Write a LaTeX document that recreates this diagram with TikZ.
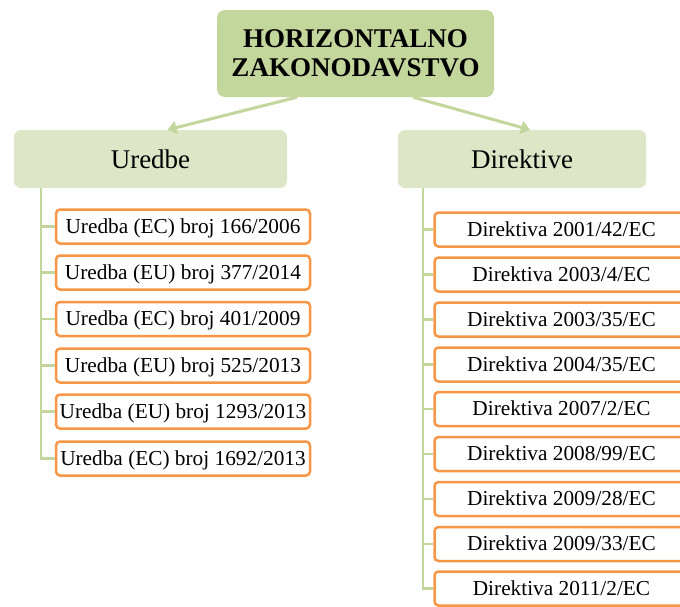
\documentclass[tikz,border=0pt]{standalone}
\usepackage{fontspec}
\setmainfont{Liberation Serif}
\usetikzlibrary{arrows.meta}

\definecolor{headgreen}{HTML}{C3D69B}
\definecolor{subgreen}{HTML}{DDE7C8}
\definecolor{boxorange}{HTML}{F79646}

\tikzset{
	headbox/.style={fill=headgreen, rounded corners=8pt, minimum width=277pt, minimum height=87pt, align=center, font=\fontsize{27}{29}\selectfont\bfseries},
	groupbox/.style={fill=subgreen, rounded corners=7pt, minimum height=58pt, font=\fontsize{27}{30}\selectfont},
	itembox/.style={draw=boxorange, line width=2.5pt, fill=white, rounded corners=4pt, inner sep=2pt, text height=15pt, text depth=2pt, minimum width=254pt, minimum height=34pt, font=\fontsize{21.3}{23}\selectfont},
	branch/.style={draw=headgreen, line width=2.5pt},
	feed/.style={draw=headgreen, line width=3pt, -{Triangle[length=9pt,width=13pt]}}
}

\begin{document}
\begin{tikzpicture}[x=1pt, y=-1pt]
			%%%%% START %%%%%
			
			\clip (0, 0) rectangle (680, 606);
			
			\node[headbox] (zakon) at (355.5, 53.5) {HORIZONTALNO\\ZAKONODAVSTVO};
			
			\node[groupbox, minimum width=273pt] (uredbe) at (150.5, 159) {Uredbe};
			\node[groupbox, minimum width=248pt] (direktive) at (522, 159) {Direktive};
			
			\draw[feed] ([xshift=-58.5pt]zakon.south) -- ([xshift=17pt]uredbe.north);
			\draw[feed] ([xshift=57.5pt]zakon.south) -- ([xshift=8pt]direktive.north);
			
			\coordinate (ustem) at ([xshift=27pt]uredbe.south west);
			\coordinate (dstem) at ([xshift=25pt]direktive.south west);
			
			\node[itembox] (u1) at (183, 226.5) {Uredba (EC) broj 166/2006};
			\node[itembox] (u2) at (183, 272.5) {Uredba (EU) broj 377/2014};
			\node[itembox] (u3) at (183, 319) {Uredba (EC) broj 401/2009};
			\node[itembox] (u4) at (183, 365.5) {Uredba (EU) broj 525/2013};
			\node[itembox] (u5) at (183, 411.5) {Uredba (EU) broj 1293/2013};
			\node[itembox] (u6) at (183, 458.5) {Uredba (EC) broj 1692/2013};
			
			\draw[branch] (ustem) |- (u1.west);
			\draw[branch] (ustem) |- (u2.west);
			\draw[branch] (ustem) |- (u3.west);
			\draw[branch] (ustem) |- (u4.west);
			\draw[branch] (ustem) |- (u5.west);
			\draw[branch] (ustem) |- (u6.west);
			
			\node[itembox] (d1) at (561.5, 229.5) {Direktiva 2001/42/EC};
			\node[itembox] (d2) at (561.5, 274.5) {Direktiva 2003/4/EC};
			\node[itembox] (d3) at (561.5, 319.5) {Direktiva 2003/35/EC};
			\node[itembox] (d4) at (561.5, 364.5) {Direktiva 2004/35/EC};
			\node[itembox] (d5) at (561.5, 409) {Direktiva 2007/2/EC};
			\node[itembox] (d6) at (561.5, 454) {Direktiva 2008/99/EC};
			\node[itembox] (d7) at (561.5, 499) {Direktiva 2009/28/EC};
			\node[itembox] (d8) at (561.5, 544) {Direktiva 2009/33/EC};
			\node[itembox] (d9) at (561.5, 588.5) {Direktiva 2011/2/EC};
			
			\draw[branch] (dstem) |- (d1.west);
			\draw[branch] (dstem) |- (d2.west);
			\draw[branch] (dstem) |- (d3.west);
			\draw[branch] (dstem) |- (d4.west);
			\draw[branch] (dstem) |- (d5.west);
			\draw[branch] (dstem) |- (d6.west);
			\draw[branch] (dstem) |- (d7.west);
			\draw[branch] (dstem) |- (d8.west);
			\draw[branch] (dstem) |- (d9.west);
			
			%%%%% END %%%%%
\end{tikzpicture}
\end{document}
